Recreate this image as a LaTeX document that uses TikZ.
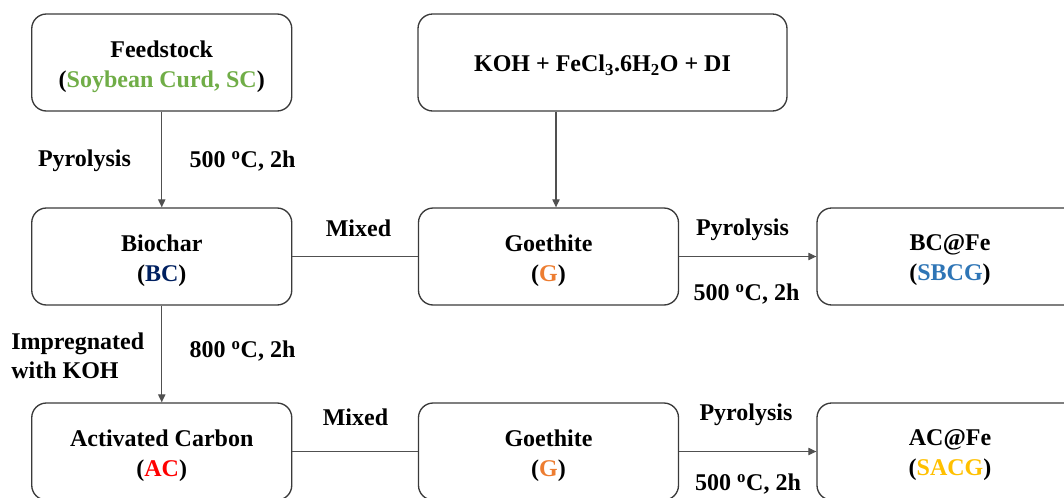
\documentclass[tikz,border=0pt]{standalone}
\usepackage{fontspec}
\setmainfont{Liberation Serif}
\usetikzlibrary{arrows.meta}
\definecolor{scgreen}{HTML}{70AD47}
\definecolor{bcblue}{HTML}{002060}
\definecolor{gorange}{HTML}{ED7D31}
\definecolor{acred}{HTML}{FF0000}
\definecolor{sbcgblue}{HTML}{2E75B6}
\definecolor{sacgyellow}{HTML}{FFC000}
\definecolor{edge}{HTML}{3A3A3A}
\definecolor{conn}{HTML}{505050}
\tikzset{
  box/.style={draw=edge, line width=1pt, rounded corners=11pt,
    minimum width=195pt, minimum height=72.75pt, inner sep=0pt},
  boxtext/.style={align=center, inner sep=0pt, yshift=-3pt,
    font=\fontsize{18}{22.5}\selectfont\bfseries},
  lbl/.style={font=\fontsize{18}{22}\selectfont\bfseries, inner sep=0pt, align=left},
  conline/.style={draw=conn, line width=0.8pt},
  arr/.style={conline, -{Triangle[length=6pt,width=5.5pt]}}
}
\begin{document}
\begin{tikzpicture}[x=0.75pt,y=-0.75pt]
\useasboundingbox (0,0) rectangle (1064,497);
\clip (0,0) rectangle (1064,497);
% boxes
\node[box, label={[boxtext]center:Feedstock\\(\textcolor{scgreen}{Soybean Curd, SC})}] (fs) at (161.75,62.5) {};
\node[box, minimum width=276.75pt, label={[boxtext, yshift=1pt]center:KOH + FeCl\textsubscript{3}.6H\textsubscript{2}O + DI}] (koh) at (602.5,62.5) {};
\node[box, label={[boxtext]center:Biochar\\(\textcolor{bcblue}{BC})}] (bc) at (161.75,256.5) {};
\node[box, label={[boxtext]center:Goethite\\(\textcolor{gorange}{G})}] (g1) at (548.5,256.5) {};
\node[box, minimum width=199.5pt, label={[boxtext]center:BC@Fe\\(\textcolor{sbcgblue}{SBCG})}] (sbcg) at (950,256.5) {};
\node[box, label={[boxtext]center:Activated Carbon\\(\textcolor{acred}{AC})}] (ac) at (161.75,451.5) {};
\node[box, label={[boxtext]center:Goethite\\(\textcolor{gorange}{G})}] (g2) at (548.5,451.5) {};
\node[box, minimum width=199.5pt, label={[boxtext]center:AC@Fe\\(\textcolor{sacgyellow}{SACG})}] (sacg) at (950,451.5) {};
% connectors
\coordinate (kx) at (556,0);
\draw[arr] (fs) -- (bc);
\draw[arr] (koh.south -| kx) -- (g1.north -| kx);
\draw[conline] (bc) -- (g1);
\draw[arr] (g1) -- (sbcg.west |- g1);
\draw[arr] (bc) -- (ac);
\draw[conline] (ac) -- (g2);
\draw[arr] (g2) -- (sacg.west |- g2);
% labels
\node[lbl] (l1) at (84.5,161) {Pyrolysis};
\node[lbl] (l2) at (242.5,161) {500 \textsuperscript{o}C, 2h};
\node[lbl] (l3) at (358.5,228) {Mixed};
\node[lbl] (l4) at (742.5,229.5) {Pyrolysis};
\node[lbl] (l5) at (746.5,294) {500 \textsuperscript{o}C, 2h};
\node[lbl, anchor=west] (l6) at (11,356) {Impregnated\\with KOH};
\node[lbl] (l7) at (242.5,351) {800 \textsuperscript{o}C, 2h};
\node[lbl] (l8) at (355.5,417) {Mixed};
\node[lbl] (l9) at (746,414.5) {Pyrolysis};
\node[lbl] (l10) at (748,484) {500 \textsuperscript{o}C, 2h};
\end{tikzpicture}
\end{document}
